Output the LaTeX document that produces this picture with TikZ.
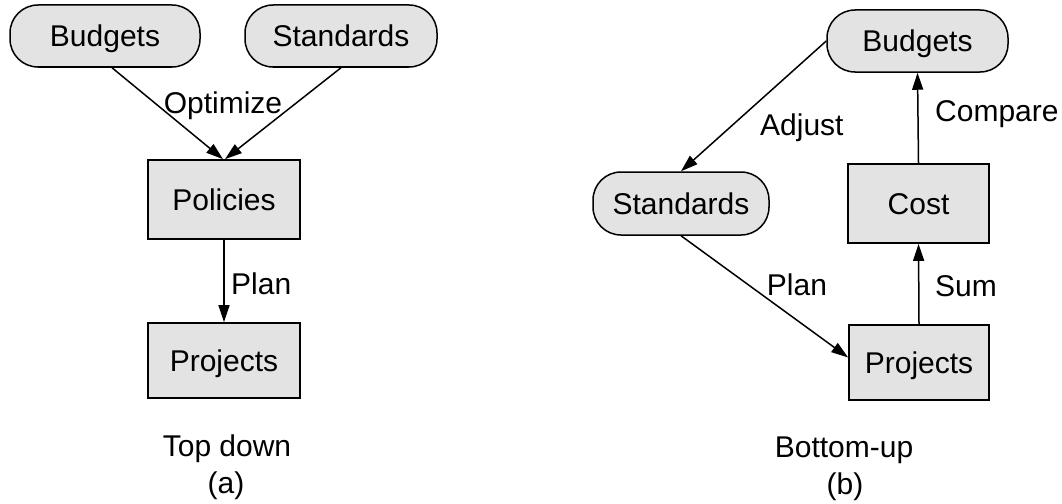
\documentclass[tikz,border=0pt]{standalone}
\usepackage{fontspec}
\setmainfont{Liberation Sans}
\usetikzlibrary{arrows.meta}
\definecolor{boxfill}{gray}{0.89}
\begin{document}
\begin{tikzpicture}[x=1pt,y=-1pt,
  every node/.style={font=\fontsize{30}{35}\selectfont},
  pill/.style={draw, line width=1.5pt, fill=boxfill, rounded corners=28pt, inner sep=0pt, text height=21.5pt, text depth=0pt},
  box/.style={draw, line width=1.7pt, fill=boxfill, inner sep=0pt, text height=21.5pt, text depth=0pt},
  conn/.style={line width=1.5pt, -{Triangle[length=17pt,width=11pt]}},
  lbl/.style={inner sep=0pt}]
\useasboundingbox (0,0) rectangle (1062,503);
% (a) Top down
\node[pill, minimum width=190pt, minimum height=62pt] (lb) at (105,36) {Budgets};
\node[pill, minimum width=192pt, minimum height=62pt] (ls) at (341,36) {Standards};
\node[box, minimum width=152pt, minimum height=79pt] (lpol) at (224,199.5) {Policies};
\node[box, minimum width=152pt, minimum height=75pt] (lproj) at (224,360.5) {Projects};
\draw[conn] ([xshift=7pt]lb.south) -- ([xshift=-1pt]lpol.north);
\draw[conn] (ls.south) -- ([xshift=1pt]lpol.north);
\draw[conn] (lpol.south) -- (lproj.north);
\node[lbl, anchor=base] (optl) at (223,113) {Optimize};
\node[lbl, anchor=base west] (planl) at (231,294) {Plan};
\node[lbl, anchor=base] (capa1) at (227,456) {Top down};
\node[lbl, anchor=base] (capa2) at (226,493) {(a)};
% (b) Bottom-up
\node[pill, minimum width=181pt, minimum height=62pt] (rb) at (917.5,41) {Budgets};
\node[pill, minimum width=176pt, minimum height=63pt] (rs) at (681,203.5) {Standards};
\node[box, minimum width=141pt, minimum height=79pt] (rc) at (918.5,203.5) {Cost};
\node[box, minimum width=140pt, minimum height=75pt] (rp) at (919,362.5) {Projects};
\draw[conn] (rb.west) -- (rs.north);
\draw[conn] (rs.south) -- ([yshift=5pt]rp.west);
\draw[conn] (rp.north) -- (rc.south);
\draw[conn] (rc.north) -- (rb.south);
\node[lbl, anchor=base west] (adj) at (760,135) {Adjust};
\node[lbl, anchor=base west] (cmp) at (935,121) {Compare};
\node[lbl, anchor=base] (planr) at (797,295) {Plan};
\node[lbl, anchor=base west] (sum) at (935,296) {Sum};
\node[lbl, anchor=base] (capb1) at (844,457) {Bottom-up};
\node[lbl, anchor=base] (capb2) at (845,494) {(b)};
\end{tikzpicture}
\end{document}
